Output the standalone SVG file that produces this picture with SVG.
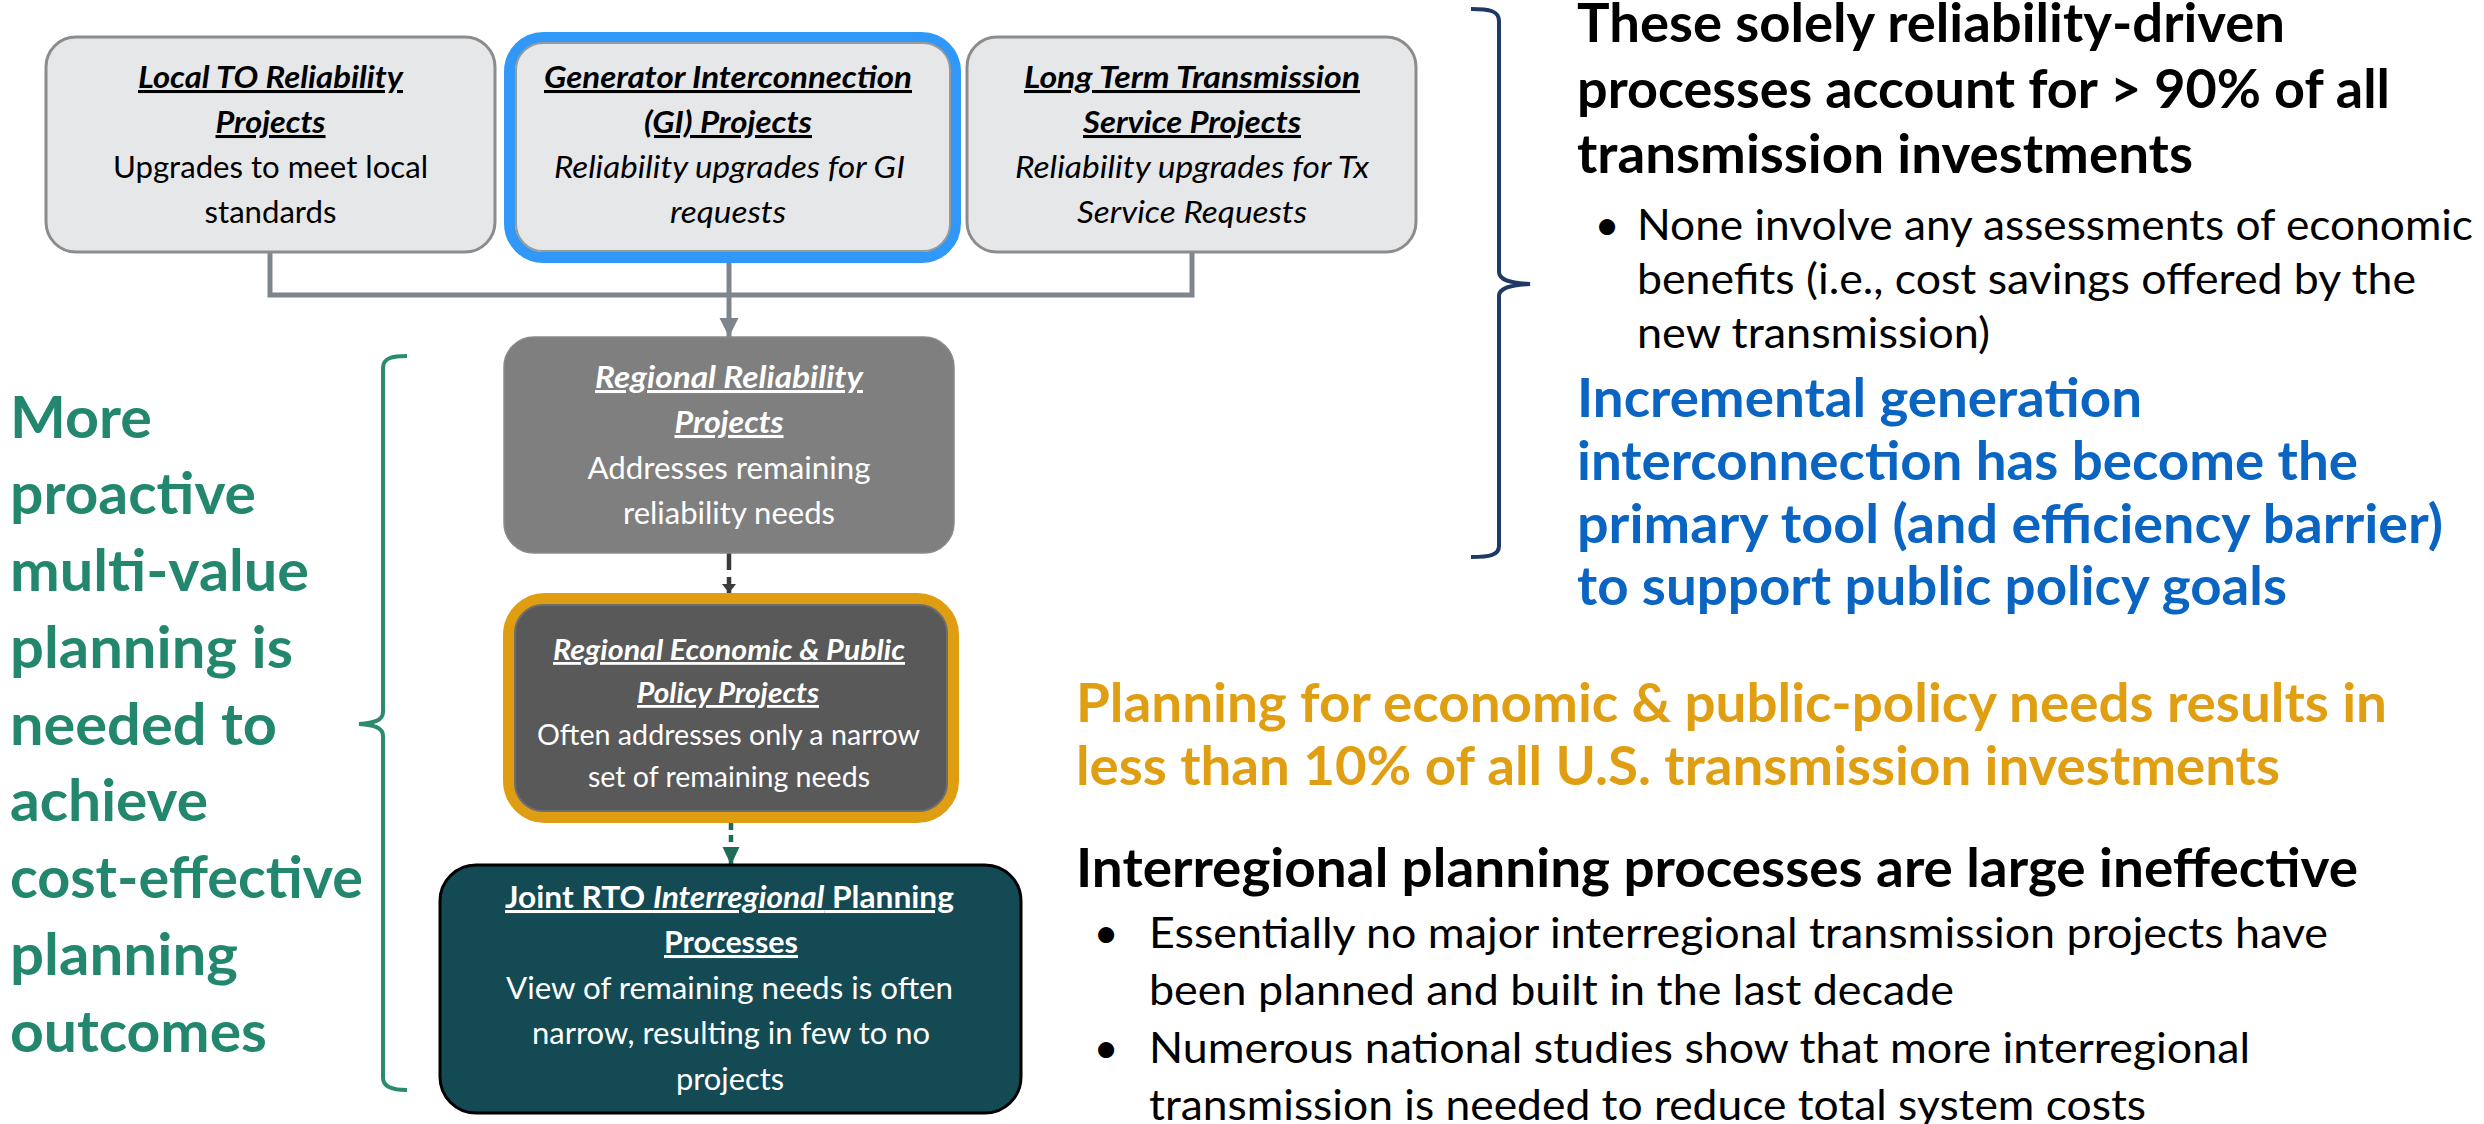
<svg xmlns="http://www.w3.org/2000/svg" width="2484" height="1124" viewBox="0 0 2484 1124">
<style>
  text { font-family: Lato, "Open Sans", "Liberation Sans", sans-serif; }
  .bt { font-size: 30.5px; text-anchor: middle; }
  .bt2 { font-size: 28.2px; text-anchor: middle; }
  .ttl { font-weight: bold; font-style: italic; text-decoration: underline; }
  .dark { fill: #000; }
  .light { fill: #FFFFFF; }
  .green { font-size: 57px; font-weight: bold; fill: #23876E; }
  .head { font-size: 52.8px; font-weight: bold; fill: #000; }
  .blue { font-size: 52.8px; font-weight: bold; fill: #0A64C2; }
  .gold { font-size: 52.8px; font-weight: bold; fill: #E09F13; }
  .body { font-size: 43.4px; fill: #000; }
  .topbox { fill: #E6E7E9; stroke: #8C8C8C; stroke-width: 3; }
  .conn { fill: none; stroke: #7F858C; stroke-width: 5; }
</style>
<defs>
  <marker id="arrGray" markerUnits="userSpaceOnUse" markerWidth="20" markerHeight="20" refX="19" refY="9.5" orient="auto">
    <path d="M0,0 L19,9.5 L0,19 z" fill="#7F858C"/>
  </marker>
  <marker id="arrDark" markerUnits="userSpaceOnUse" markerWidth="16" markerHeight="16" refX="9" refY="7" orient="auto">
    <path d="M0,0 L9,7 L0,14 z" fill="#3A3A3A"/>
  </marker>
  <marker id="arrGreen" markerUnits="userSpaceOnUse" markerWidth="20" markerHeight="20" refX="18" refY="8.5" orient="auto">
    <path d="M0,0 L18,8.5 L0,17 z" fill="#1E6B58"/>
  </marker>
</defs>

<g id="connectors">
  <polyline class="conn" points="270,252 270,295 1192,295 1192,252"/>
  <line x1="729" y1="263" x2="729" y2="337" stroke="#7F858C" stroke-width="5" marker-end="url(#arrGray)"/>
  <line x1="729" y1="553" x2="729" y2="593" stroke="#3A3A3A" stroke-width="4.5" stroke-dasharray="17,7" marker-end="url(#arrDark)"/>
  <line x1="731" y1="823" x2="731" y2="865" stroke="#1E6B58" stroke-width="4.5" stroke-dasharray="7,5" marker-end="url(#arrGreen)"/>
</g>

<g id="node-local-to">
  <rect class="topbox" x="46" y="37" width="449" height="215" rx="30"/>
  <text class="bt ttl dark" x="270.5" y="88" textLength="265" lengthAdjust="spacingAndGlyphs">Local TO Reliability</text>
  <text class="bt ttl dark" x="270.5" y="133" textLength="110" lengthAdjust="spacingAndGlyphs">Projects</text>
  <text class="bt dark" x="270.5" y="178" textLength="315" lengthAdjust="spacingAndGlyphs">Upgrades to meet local</text>
  <text class="bt dark" x="270.5" y="223" textLength="132" lengthAdjust="spacingAndGlyphs">standards</text>
</g>

<g id="node-gi">
  <rect x="509.5" y="37.5" width="446" height="220" rx="34" fill="#E6E7E9" stroke="#2F98F8" stroke-width="11"/>
  <rect x="516" y="43" width="434" height="208" rx="27" fill="#E6E7E9" stroke="#9A9A9A" stroke-width="2"/>
  <text class="bt ttl dark" x="728" y="88" textLength="368" lengthAdjust="spacingAndGlyphs">Generator Interconnection</text>
  <text class="bt ttl dark" x="728" y="133" textLength="168" lengthAdjust="spacingAndGlyphs">(GI) Projects</text>
  <text class="bt dark" x="729.5" y="178" font-style="italic" textLength="351" lengthAdjust="spacingAndGlyphs">Reliability upgrades for GI</text>
  <text class="bt dark" x="728" y="223" font-style="italic" textLength="116" lengthAdjust="spacingAndGlyphs">requests</text>
</g>

<g id="node-long-term">
  <rect class="topbox" x="967" y="37" width="449" height="215" rx="30"/>
  <text class="bt ttl dark" x="1192" y="88" textLength="336" lengthAdjust="spacingAndGlyphs">Long Term Transmission</text>
  <text class="bt ttl dark" x="1192" y="133" textLength="218" lengthAdjust="spacingAndGlyphs">Service Projects</text>
  <text class="bt dark" x="1192" y="178" font-style="italic" textLength="354" lengthAdjust="spacingAndGlyphs">Reliability upgrades for Tx</text>
  <text class="bt dark" x="1192" y="223" font-style="italic" textLength="230" lengthAdjust="spacingAndGlyphs">Service Requests</text>
</g>

<g id="node-regional-reliability">
  <rect x="504" y="337" width="450" height="216" rx="30" fill="#7F7F7F" stroke="#8A8A8A" stroke-width="1.5"/>
  <text class="bt ttl light" x="729" y="388" textLength="268" lengthAdjust="spacingAndGlyphs">Regional Reliability</text>
  <text class="bt ttl light" x="729" y="433" textLength="109" lengthAdjust="spacingAndGlyphs">Projects</text>
  <text class="bt light" x="729" y="479" textLength="283" lengthAdjust="spacingAndGlyphs">Addresses remaining</text>
  <text class="bt light" x="729" y="524" textLength="212" lengthAdjust="spacingAndGlyphs">reliability needs</text>
</g>

<g id="node-regional-economic">
  <rect x="509" y="599" width="444" height="218" rx="36" fill="#595959" stroke="#DF9D12" stroke-width="12"/>
  <rect x="515" y="605" width="432" height="206" rx="28" fill="#595959" stroke="#6E6E6E" stroke-width="2"/>
  <text class="bt2 ttl light" x="729" y="660" textLength="352" lengthAdjust="spacingAndGlyphs">Regional Economic &amp; Public</text>
  <text class="bt2 ttl light" x="728" y="703" textLength="182" lengthAdjust="spacingAndGlyphs">Policy Projects</text>
  <text class="bt2 light" x="728.5" y="745" textLength="383" lengthAdjust="spacingAndGlyphs">Often addresses only a narrow</text>
  <text class="bt2 light" x="729" y="787" textLength="282" lengthAdjust="spacingAndGlyphs">set of remaining needs</text>
</g>

<g id="node-joint-rto">
  <rect x="440" y="865" width="581" height="248" rx="36" fill="#134A54" stroke="#000000" stroke-width="3"/>
  <text class="bt light" x="729.5" y="908" font-weight="bold" text-decoration="underline" textLength="449" lengthAdjust="spacingAndGlyphs">Joint RTO <tspan font-style="italic">Interregional</tspan> Planning</text>
  <text class="bt light" x="731" y="953" font-weight="bold" text-decoration="underline" textLength="134" lengthAdjust="spacingAndGlyphs">Processes</text>
  <text class="bt light" x="729.5" y="999" textLength="447" lengthAdjust="spacingAndGlyphs">View of remaining needs is often</text>
  <text class="bt light" x="731" y="1044" textLength="398" lengthAdjust="spacingAndGlyphs">narrow, resulting in few to no</text>
  <text class="bt light" x="730" y="1090" textLength="108" lengthAdjust="spacingAndGlyphs">projects</text>
</g>

<g id="left-bracket">
  <path d="M407,356 C392,356 383,358 383,368 L383,712 C383,720 375,723 359,724 C375,725 383,728 383,736 L383,1078 C383,1087 392,1090 407,1090" fill="none" stroke="#2B8A70" stroke-width="4"/>
</g>

<g id="left-text">
  <text class="green" x="10" y="438" textLength="142" lengthAdjust="spacingAndGlyphs">More</text>
  <text class="green" x="10" y="514" textLength="246" lengthAdjust="spacingAndGlyphs">proactive</text>
  <text class="green" x="10" y="591" textLength="299" lengthAdjust="spacingAndGlyphs">multi-value</text>
  <text class="green" x="10" y="668" textLength="283" lengthAdjust="spacingAndGlyphs">planning is</text>
  <text class="green" x="10" y="745" textLength="267" lengthAdjust="spacingAndGlyphs">needed to</text>
  <text class="green" x="10" y="821" textLength="198" lengthAdjust="spacingAndGlyphs">achieve</text>
  <text class="green" x="10" y="898" textLength="353" lengthAdjust="spacingAndGlyphs">cost-effective</text>
  <text class="green" x="10" y="975" textLength="228" lengthAdjust="spacingAndGlyphs">planning</text>
  <text class="green" x="10" y="1052" textLength="257" lengthAdjust="spacingAndGlyphs">outcomes</text>
</g>

<g id="right-bracket">
  <path d="M1471,9 C1490,9 1499,11 1499,21 L1499,272 C1499,280 1510,283 1530,284 C1510,285 1499,288 1499,296 L1499,546 C1499,555 1490,557 1471,557" fill="none" stroke="#1F3864" stroke-width="4"/>
</g>

<g id="right-text">
  <text class="head" x="1577" y="42" textLength="708" lengthAdjust="spacingAndGlyphs">These solely reliability-driven</text>
  <text class="head" x="1577" y="108" textLength="813" lengthAdjust="spacingAndGlyphs">processes account for &gt; 90% of all</text>
  <text class="head" x="1577" y="173" textLength="616" lengthAdjust="spacingAndGlyphs">transmission investments</text>
  <text class="body" x="1607" y="240" text-anchor="middle">•</text>
  <text class="body" x="1637" y="240" textLength="836" lengthAdjust="spacingAndGlyphs">None involve any assessments of economic</text>
  <text class="body" x="1637" y="294" textLength="779" lengthAdjust="spacingAndGlyphs">benefits (i.e., cost savings offered by the</text>
  <text class="body" x="1637" y="348" textLength="353" lengthAdjust="spacingAndGlyphs">new transmission)</text>
  <text class="blue" x="1577" y="417" textLength="565" lengthAdjust="spacingAndGlyphs">Incremental generation</text>
  <text class="blue" x="1577" y="480" textLength="781" lengthAdjust="spacingAndGlyphs">interconnection has become the</text>
  <text class="blue" x="1577" y="543" textLength="866" lengthAdjust="spacingAndGlyphs">primary tool (and efficiency barrier)</text>
  <text class="blue" x="1577" y="605" textLength="710" lengthAdjust="spacingAndGlyphs">to support public policy goals</text>
</g>

<g id="bottom-text">
  <text class="gold" x="1076" y="722" textLength="1311" lengthAdjust="spacingAndGlyphs">Planning for economic &amp; public-policy needs results in</text>
  <text class="gold" x="1076" y="785" textLength="1204" lengthAdjust="spacingAndGlyphs">less than 10% of all U.S. transmission investments</text>
  <text class="head" x="1076" y="887" textLength="1282" lengthAdjust="spacingAndGlyphs">Interregional planning processes are large ineffective</text>
  <text class="body" x="1106" y="948" text-anchor="middle">•</text>
  <text class="body" x="1149" y="948" textLength="1179" lengthAdjust="spacingAndGlyphs">Essentially no major interregional transmission projects have</text>
  <text class="body" x="1149" y="1005" textLength="805" lengthAdjust="spacingAndGlyphs">been planned and built in the last decade</text>
  <text class="body" x="1106" y="1063" text-anchor="middle">•</text>
  <text class="body" x="1149" y="1063" textLength="1101" lengthAdjust="spacingAndGlyphs">Numerous national studies show that more interregional</text>
  <text class="body" x="1149" y="1120" textLength="997" lengthAdjust="spacingAndGlyphs">transmission is needed to reduce total system costs</text>
</g>
</svg>
